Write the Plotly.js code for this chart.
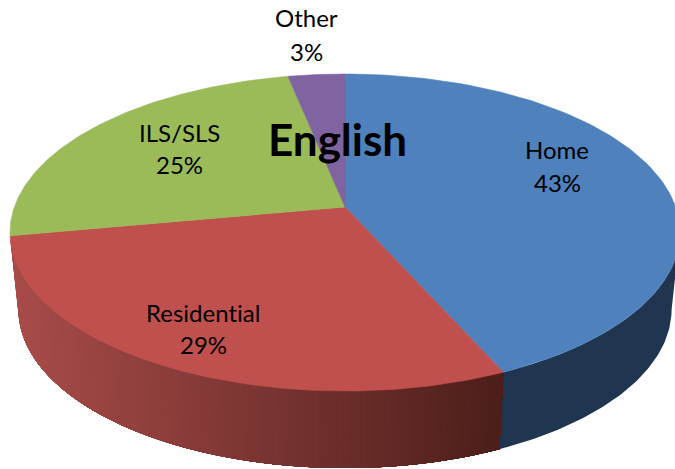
<!DOCTYPE html>
<html><head><meta charset="utf-8">
<script src="https://cdn.plot.ly/plotly-3.0.1.min.js"></script>
<style>html,body{margin:0;padding:0;background:#fff} svg text{font-variant-ligatures:none;font-feature-settings:"liga" 0}</style>
</head><body><div id="chart" style="width:675px;height:469px"></div>
<script>
const categories = ["Home", "Residential", "ILS/SLS", "Other"];
const shares = [43.3, 28.8, 24.7, 3.2];
const chartTitle = "English";

const topColors = ["#4F81BD", "#C0504D", "#9BBB59", "#8064A2"];
const blueWall = "#1F3550";
const redWallLeft = [168, 76, 73], redWallRight = [76, 30, 26];

// projection of the tilted disc
const cx = 345, cy = 207, A = 330.6, B = 154.4, k = 0.161, depth = 77, shrink = 0.975;
const sideDeg = Math.acos(-k) * 180 / Math.PI;   // where the rim is widest on the right
function rim(deg) {
  const t = deg * Math.PI / 180, u = Math.sin(t), v = Math.cos(t), w = 1 + k * v;
  return [cx + A * u / w, cy - B * v / w];
}
function low(deg) { const p = rim(deg); return [cx + (p[0] - cx) * shrink, p[1] + depth]; }
function poly(pts, color, lineWidth) {
  const xs = pts.map(p => p[0]), ys = pts.map(p => p[1]);
  xs.push(xs[0]); ys.push(ys[0]);
  return {type: "scatter", mode: "lines", x: xs, y: ys, fill: "toself", fillcolor: color,
          line: {color: color, width: lineWidth}, hoverinfo: "skip", showlegend: false};
}
function wedge(a, b, n) {
  const pts = [[cx, cy]];
  for (let i = 0; i <= n; i++) pts.push(rim(a + (b - a) * i / n));
  return pts;
}
function wall(a, b, n) {
  const pts = [];
  for (let i = 0; i <= n; i++) pts.push(rim(a + (b - a) * i / n));
  for (let i = n; i >= 0; i--) pts.push(low(a + (b - a) * i / n));
  return pts;
}
const total = shares.reduce((s, v) => s + v, 0);
const edges = [0];
shares.forEach(v => edges.push(edges[edges.length - 1] + v / total * 360));

const traces = [];
// blue side wall
traces.push(poly(wall(sideDeg, edges[1], 80), blueWall, 0));
// red side wall: shaded bands, each painted over the previous one up to the blue edge
const bands = 120;
const redStart = 360 - sideDeg;
for (let i = 0; i < bands; i++) {
  const a = redStart + (edges[1] - redStart) * i / bands;
  const xm = rim(a)[0];
  const f = (xm - rim(redStart)[0]) / (rim(edges[1])[0] - rim(redStart)[0]);
  const c = redWallLeft.map((l, j) => Math.round(l + (redWallRight[j] - l) * f));
  traces.push(poly(wall(a, edges[1], 40), "rgb(" + c.join(",") + ")", 0));
}
// top face
shares.forEach((v, i) => traces.push(poly(wedge(edges[i], edges[i + 1], 120), topColors[i], 0.6)));

const font = "Lato, Carlito, Calibri, sans-serif";
const labelAnchors = [[557, 149, 182], [203, 312, 344], [179, 132, 164], [306, 17, 51]];
const annotations = [];
categories.forEach((name, i) => {
  const p = labelAnchors[i];
  annotations.push({x: p[0], y: p[1], text: name, showarrow: false, xref: "x", yref: "y",
                    xanchor: "center", yanchor: "middle", font: {family: font, size: 24, color: "#000"}});
  annotations.push({x: p[0], y: p[2], text: Math.round(shares[i]) + "%", showarrow: false, xref: "x", yref: "y",
                    xanchor: "center", yanchor: "middle", font: {family: font, size: 24, color: "#000"}});
});
annotations.push({x: 337, y: 139, text: "<b>" + chartTitle + "</b>", showarrow: false, xref: "x", yref: "y",
                  xanchor: "center", yanchor: "middle", font: {family: font, size: 44, color: "#000"}});

Plotly.newPlot("chart", traces, {
  width: 675, height: 469, margin: {l: 0, r: 0, t: 0, b: 0},
  paper_bgcolor: "#fff", plot_bgcolor: "#fff", showlegend: false,
  xaxis: {range: [0, 675], visible: false, fixedrange: true},
  yaxis: {range: [469, 0], visible: false, fixedrange: true},
  annotations: annotations
}, {displayModeBar: false, staticPlot: true});
</script></body></html>
